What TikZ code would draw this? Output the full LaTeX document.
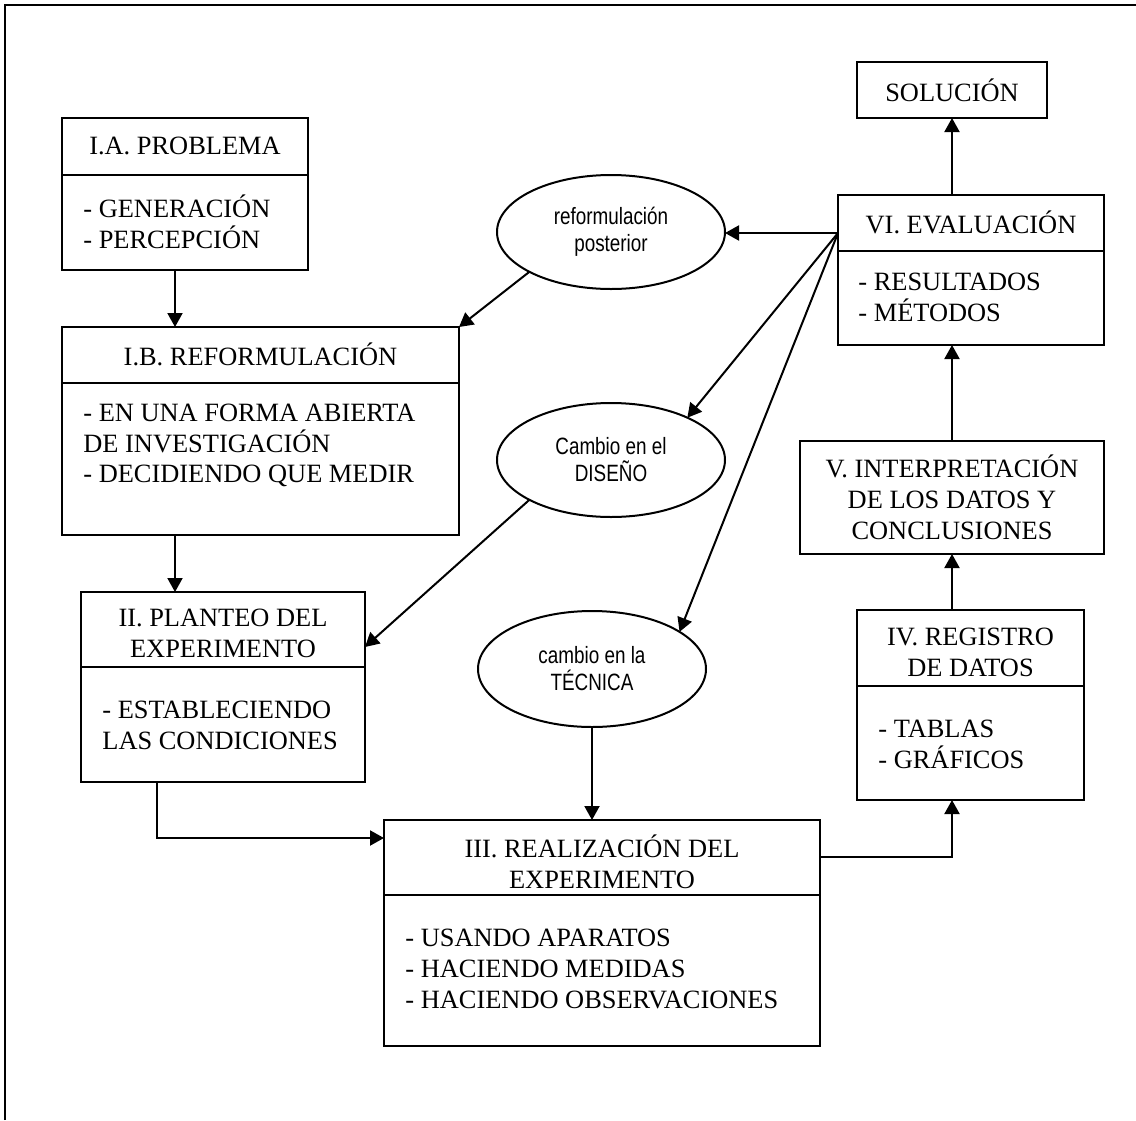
\documentclass[tikz,border=0pt]{standalone}
\usepackage{fontspec}
\setmainfont{Liberation Serif}
\newfontfamily\narrowsans[FakeStretch=0.8]{Liberation Sans}
\usetikzlibrary{arrows.meta,shapes.geometric}

\begin{document}
\begin{tikzpicture}[x=0.5pt,y=-0.5pt,
  stage/.style={draw,line width=1pt,inner sep=0pt,outer sep=0pt},
  bubble/.style={draw,ellipse,line width=1pt,inner sep=0pt,outer sep=0pt,
    minimum width=114pt,minimum height=57pt,align=center,
    font=\narrowsans\fontsize{11.8}{13.5}\selectfont},
  head/.style={align=center,inner sep=0pt,font=\fontsize{13.2}{15.4}\selectfont},
  items/.style={align=left,inner sep=0pt,anchor=west,font=\fontsize{13.2}{15.4}\selectfont},
  arr/.style={line width=1pt,-{Triangle[length=7pt,width=7.5pt]}},
  rule/.style={line width=1pt}]

\useasboundingbox (0,0) rectangle (1136,1120);
\fill[white] (0,0) rectangle (1136,1120);
% page frame (left and top edges)
\draw[line width=1.1pt] (5,1120) -- (5,5) -- (1136,5);

% stage boxes
\node[stage,minimum width=123pt,minimum height=76pt] (pa) at (185,194) {};
\draw[rule] ([yshift=-28.5pt]pa.north west) -- ([yshift=-28.5pt]pa.north east);
\node[stage,minimum width=198.5pt,minimum height=104pt] (pb) at (260.5,431) {};
\draw[rule] ([yshift=-28pt]pb.north west) -- ([yshift=-28pt]pb.north east);
\node[stage,minimum width=142pt,minimum height=95pt] (pc) at (223,687) {};
\draw[rule] ([yshift=-37.5pt]pc.north west) -- ([yshift=-37.5pt]pc.north east);
\node[stage,minimum width=218pt,minimum height=113pt] (pd) at (602,933) {};
\draw[rule] ([yshift=-37.5pt]pd.north west) -- ([yshift=-37.5pt]pd.north east);
\node[stage,minimum width=113.5pt,minimum height=95pt] (pe) at (970.5,705) {};
\draw[rule] ([yshift=-38pt]pe.north west) -- ([yshift=-38pt]pe.north east);
\node[stage,minimum width=152pt,minimum height=56.5pt] (pf) at (952,497.5) {};
\node[stage,minimum width=133pt,minimum height=75pt] (pg) at (971,270) {};
\draw[rule] ([yshift=-28pt]pg.north west) -- ([yshift=-28pt]pg.north east);
\node[stage,minimum width=95pt,minimum height=28pt] (ps) at (952,90) {};

% box texts
\node[head] (ta) at (185,146) {I.A. PROBLEMA};
\node[items] (la) at (83,221.5) {- GENERACIÓN\\- PERCEPCIÓN};
\node[head] (tb) at (260.5,354) {I.B. REFORMULACIÓN};
\node[items] (lb) at (83,445.5) {- EN UNA FORMA ABIERTA\\DE INVESTIGACIÓN\\- DECIDIENDO QUE MEDIR};
\node[head] (tc) at (223,633.5) {II. PLANTEO DEL\\EXPERIMENTO};
\node[items] (lc) at (102,725.5) {- ESTABLECIENDO\\LAS CONDICIONES};
\node[head] (td) at (602,861.5) {III. REALIZACIÓN DEL\\EXPERIMENTO};
\node[items] (ld) at (405,969) {- USANDO APARATOS\\- HACIENDO MEDIDAS\\- HACIENDO OBSERVACIONES};
\node[head] (te) at (970.5,652) {IV. REGISTRO\\DE DATOS};
\node[items] (le) at (878,744.5) {- TABLAS\\- GRÁFICOS};
\node[head] (tf) at (952,497) {V. INTERPRETACIÓN\\DE LOS DATOS Y\\CONCLUSIONES};
\node[head] (tg) at (971,222) {VI. EVALUACIÓN};
\node[items] (lg) at (858,297.5) {- RESULTADOS\\- MÉTODOS};
\node[head] (ts) at (952,90) {SOLUCIÓN};

% feedback ellipses
\node[bubble] (e1) at (611,232) {reformulación\\posterior};
\node[bubble] (e2) at (611,460) {Cambio en el\\DISEÑO};
\node[bubble,minimum height=58pt] (e3) at (592,669) {cambio en la\\TÉCNICA};

% helper coordinates
\coordinate (xa) at (175,0);
\coordinate (xb) at (157,0);
\coordinate (xv) at (952,0);
\coordinate (yc) at (0,838);
\coordinate (yd) at (0,857);
\coordinate (ye) at (0,647);
\coordinate (yh) at (0,233);
\coordinate (hub) at (pg.west |- yh);

% main sequence
\draw[arr] (pa.south -| xa) -- (pb.north -| xa);
\draw[arr] (pb.south -| xa) -- (pc.north -| xa);
\draw[arr] (pc.south -| xb) |- (pd.west |- yc);
\draw[arr] (pd.east |- yd) -| (pe.south -| xv);
\draw[arr] (pe.north -| xv) -- (pf.south -| xv);
\draw[arr] (pf.north -| xv) -- (pg.south -| xv);
\draw[arr] (pg.north -| xv) -- (ps.south -| xv);

% feedback loops from the evaluation
\draw[arr] (hub) -- (hub -| e1.east);
\draw[arr] (hub) -- (e2.29);
\draw[arr] (hub) -- (e3.23);
\draw[arr] (e1.206) -- (pb.north east);
\draw[arr] (e2.206) -- (pc.east |- ye);
\draw[arr] (e3.south) -- (pd.north -| e3.south);
\end{tikzpicture}
\end{document}
